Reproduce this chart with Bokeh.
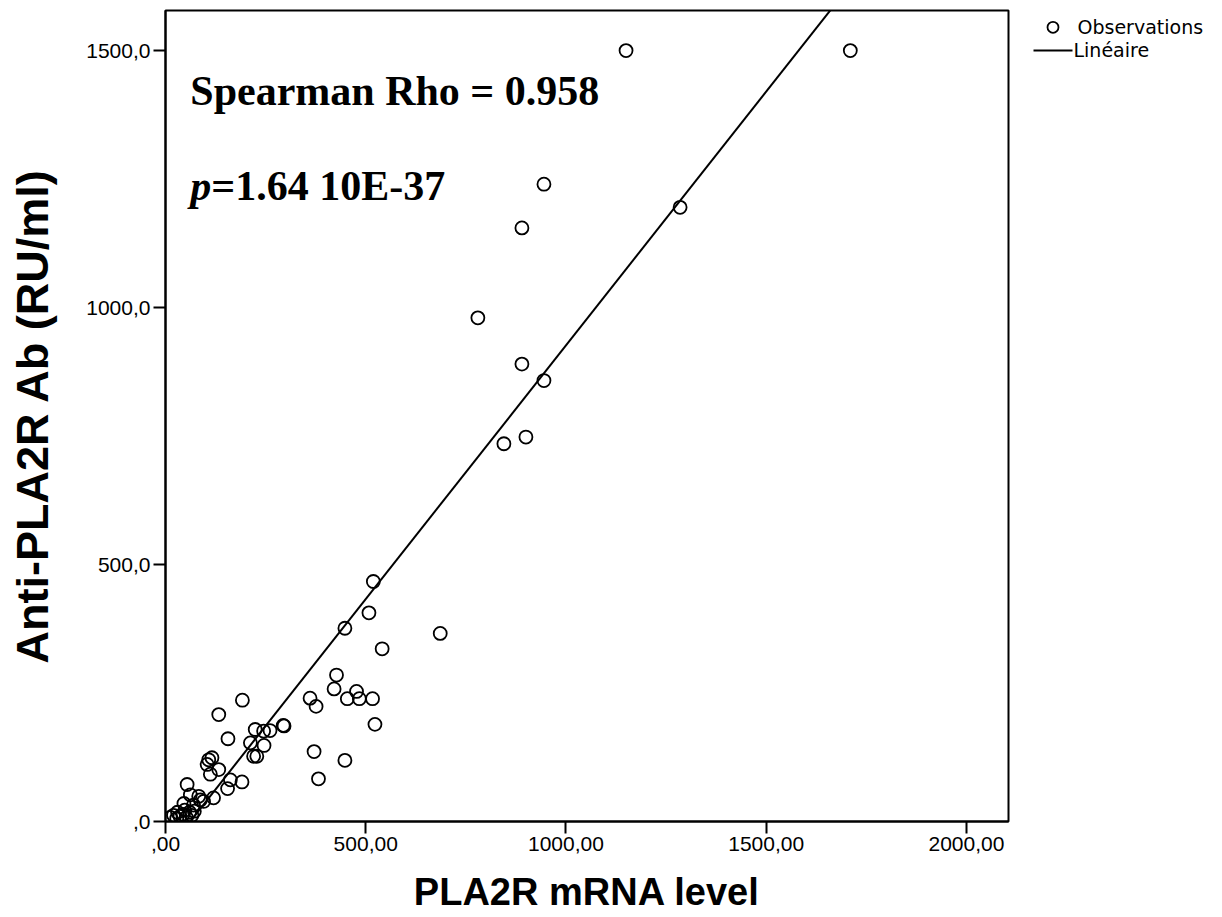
from bokeh.plotting import figure
from bokeh.layouts import row
from bokeh.models import Range1d, FixedTicker, Label
from bokeh.core.properties import value
from bokeh.embed import file_html
from bokeh.resources import INLINE

# ---- data ----
mrna = [1150, 1710, 945, 890, 1285, 780, 890, 945, 845, 900,
        519, 508, 448, 541, 686, 427, 421, 477, 361, 376, 454, 484, 517, 296, 523, 371, 448, 382,
        192, 133, 156, 224, 245, 261, 294, 212, 246, 220, 228, 108, 116, 104, 133, 112, 162, 191, 155,
        54, 62, 87, 46, 70, 95, 120, 83,
        12, 20, 28, 36, 44, 52, 60, 48, 66, 30, 72]
anti_pla2r = [1500, 1500, 1240, 1155, 1195, 980, 890, 858, 735, 748,
              467, 406, 376, 336, 366, 285, 258, 253, 240, 224, 239, 239, 239, 186, 189, 136, 119, 83,
              236, 208, 161, 179, 176, 177, 187, 153, 148, 127, 127, 120, 124, 111, 101, 92, 81, 77, 64,
              72, 52, 42, 35, 32, 39, 46, 49,
              8, 12, 6, 10, 14, 8, 18, 22, 12, 18, 20]

fit_slope = 0.9875
fit_intercept = -61.0

x_ticks = [0, 500, 1000, 1500, 2000]
x_tick_labels = [",00", "500,00", "1000,00", "1500,00", "2000,00"]
y_ticks = [0, 500, 1000, 1500]
y_tick_labels = [",0", "500,0", "1000,0", "1500,0"]
legend_labels = ["Observations", "Linéaire"]

x_max = 2105
y_max = 1578

p = figure(width=1010, height=915, output_backend="svg", toolbar_location=None,
           x_range=Range1d(0, x_max), y_range=Range1d(0, y_max),
           min_border_left=165, min_border_right=2, min_border_top=10, min_border_bottom=94)
p.grid.visible = False
p.background_fill_color = "white"
p.border_fill_color = "white"
p.outline_line_color = "black"
p.outline_line_width = 2

p.xaxis.ticker = FixedTicker(ticks=x_ticks)
p.xaxis.major_label_overrides = dict(zip(x_ticks, x_tick_labels))
p.yaxis.ticker = FixedTicker(ticks=y_ticks)
p.yaxis.major_label_overrides = dict(zip(y_ticks, y_tick_labels))

for ax in (p.xaxis, p.yaxis):
    ax.axis_line_color = "black"
    ax.axis_line_width = 2
    ax.major_tick_line_color = "black"
    ax.major_tick_line_width = 2
    ax.major_tick_in = 0
    ax.major_tick_out = 12
    ax.minor_tick_line_color = None
    ax.major_label_text_font = "Liberation Sans"
    ax.major_label_text_font_size = "21px"
    ax.major_label_text_color = "black"
    ax.major_label_standoff = 3
    ax.axis_label_text_font = "Liberation Sans"
    ax.axis_label_text_font_style = "bold"
    ax.axis_label_text_color = "black"

p.xaxis.axis_label = "PLA2R mRNA level"
p.xaxis.axis_label_text_font_size = "38px"
p.xaxis.axis_label_standoff = 17
p.yaxis.axis_label = "Anti-PLA2R Ab (RU/ml)"
p.yaxis.axis_label_text_font_size = "45px"
p.yaxis.axis_label_standoff = 25

# regression line
line_x = [0, x_max]
line_y = [fit_slope * v + fit_intercept for v in line_x]
p.line(line_x, line_y, line_color="black", line_width=2)

# observations
p.scatter(mrna, anti_pla2r, marker="circle", size=13, fill_color=None,
          line_color="black", line_width=1.8)

# annotations
p.add_layout(Label(x=62, y=1422, text="Spearman Rho = 0.958", text_font="Liberation Serif",
                   text_font_style="bold", text_font_size="42px", text_color="black",
                   text_baseline="alphabetic"))
p.add_layout(Label(x=62, y=1237, text="p", text_font="Liberation Serif",
                   text_font_style="bold italic", text_font_size="42px", text_color="black",
                   text_baseline="alphabetic"))
p.add_layout(Label(x=62, y=1237, x_offset=21, text="=1.64 10E-37", text_font="Liberation Serif",
                   text_font_style="bold", text_font_size="42px", text_color="black",
                   text_baseline="alphabetic"))

# legend panel to the right of the plot frame (pixel-like coordinates)
p2 = figure(width=210, height=915, output_backend="svg", toolbar_location=None,
            x_range=Range1d(0, 210), y_range=Range1d(0, 915),
            x_axis_type=None, y_axis_type=None,
            min_border_left=0, min_border_right=0, min_border_top=0, min_border_bottom=0)
p2.grid.visible = False
p2.outline_line_color = None
p2.background_fill_color = "white"
p2.border_fill_color = "white"
p2.scatter([42.5], [896], marker="circle", size=11, fill_color=None,
           line_color="black", line_width=1.8)
p2.line([23, 62], [870, 870], line_color="black", line_width=2)
p2.text(x=[67, 63], y=[896, 870], text=legend_labels, text_font=value("DejaVu Sans"),
        text_font_size="19px", text_baseline="middle", text_align="left", text_color="black")

layout = row(p, p2)
open("out.html", "w").write(file_html(layout, INLINE))
